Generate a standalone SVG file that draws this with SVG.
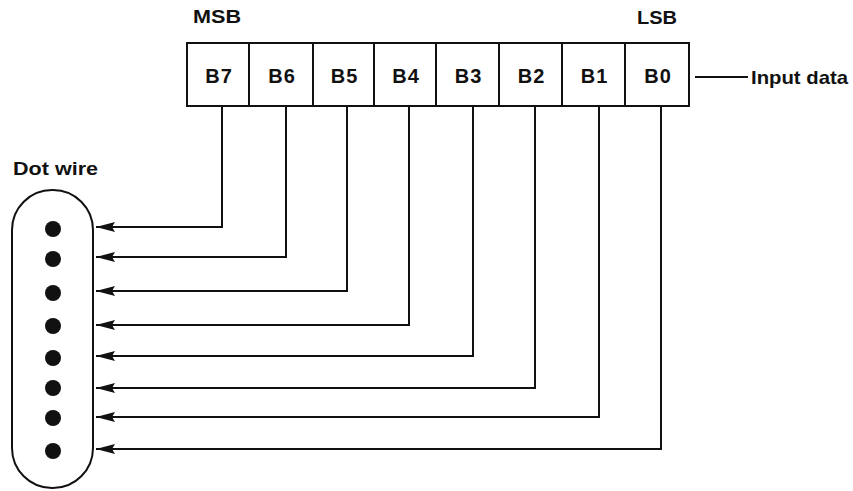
<svg xmlns="http://www.w3.org/2000/svg" width="853" height="491" viewBox="0 0 853 491">
<style>
.t{font-family:"Liberation Sans",Arial,sans-serif;font-weight:bold;font-size:19px;fill:#111}
.b{font-size:20px;letter-spacing:1px}
.c{text-anchor:middle}
.box{fill:#fff;stroke:#111;stroke-width:2}
.w{fill:none;stroke:#111;stroke-width:2}
.dot{fill:#111}
</style>
<defs>
<marker id="ah" markerWidth="20" markerHeight="10" refX="19" refY="5" orient="auto" markerUnits="userSpaceOnUse">
<path d="M19,5 L0,0 L3,5 L0,10 Z" fill="#111"/>
</marker>
</defs>
<text class="t" x="193" y="23" textLength="48" lengthAdjust="spacingAndGlyphs">MSB</text>
<text class="t" x="637" y="24" textLength="40" lengthAdjust="spacingAndGlyphs">LSB</text>
<g id="register">
<g id="b7"><rect class="box" x="187" y="43" width="62" height="63"/><text class="t b c" x="219" y="83">B7</text></g>
<g id="b6"><rect class="box" x="249" y="43" width="64" height="63"/><text class="t b c" x="282" y="83">B6</text></g>
<g id="b5"><rect class="box" x="313" y="43" width="61" height="63"/><text class="t b c" x="344.5" y="83">B5</text></g>
<g id="b4"><rect class="box" x="374" y="43" width="62" height="63"/><text class="t b c" x="406" y="83">B4</text></g>
<g id="b3"><rect class="box" x="436" y="43" width="63" height="63"/><text class="t b c" x="468.5" y="83">B3</text></g>
<g id="b2"><rect class="box" x="499" y="43" width="63" height="63"/><text class="t b c" x="531.5" y="83">B2</text></g>
<g id="b1"><rect class="box" x="562" y="43" width="63" height="63"/><text class="t b c" x="594.5" y="83">B1</text></g>
<g id="b0"><rect class="box" x="625" y="43" width="64" height="63"/><text class="t b c" x="658" y="83">B0</text></g>
</g>
<g id="input">
<line class="w" x1="695" y1="77" x2="748" y2="77"/>
<text class="t" x="751" y="84" textLength="97" lengthAdjust="spacingAndGlyphs">Input data</text>
</g>
<g id="dotwire">
<text class="t" x="13" y="175" textLength="85" lengthAdjust="spacingAndGlyphs">Dot wire</text>
<rect class="w" x="12" y="190" width="81" height="298" rx="40" ry="40"/>
<circle class="dot" cx="53" cy="229" r="8"/>
<circle class="dot" cx="53" cy="259" r="8"/>
<circle class="dot" cx="53" cy="293" r="8"/>
<circle class="dot" cx="53" cy="326" r="8"/>
<circle class="dot" cx="53" cy="358" r="8"/>
<circle class="dot" cx="53" cy="388" r="8"/>
<circle class="dot" cx="53" cy="418" r="8"/>
<circle class="dot" cx="53" cy="451" r="8"/>
</g>
<g id="connectors">
<polyline class="w" points="222,106 222,227 96,227" marker-end="url(#ah)"/>
<polyline class="w" points="286,106 286,257 96,257" marker-end="url(#ah)"/>
<polyline class="w" points="347,106 347,291 96,291" marker-end="url(#ah)"/>
<polyline class="w" points="409,106 409,325 96,325" marker-end="url(#ah)"/>
<polyline class="w" points="473,106 473,356 96,356" marker-end="url(#ah)"/>
<polyline class="w" points="535,106 535,388 96,388" marker-end="url(#ah)"/>
<polyline class="w" points="599,106 599,417 96,417" marker-end="url(#ah)"/>
<polyline class="w" points="661,106 661,449 96,449" marker-end="url(#ah)"/>
</g>
</svg>
